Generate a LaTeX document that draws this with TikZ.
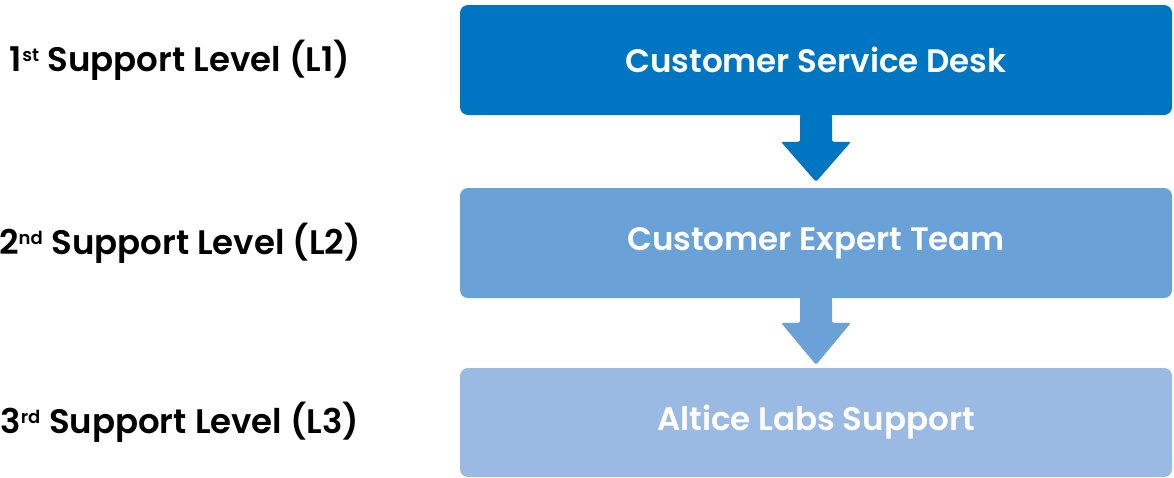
\documentclass[tikz,border=0pt]{standalone}
\usepackage{fontspec}
\setmainfont{Poppins}[BoldFont={Poppins SemiBold}]
\usetikzlibrary{calc}
\definecolor{lvlone}{HTML}{0075C1}
\definecolor{lvltwo}{HTML}{6AA1D6}
\definecolor{lvlthree}{HTML}{9ABAE3}
\tikzset{
  levelbox/.style={rounded corners=8pt, minimum width=712pt, minimum height=110pt,
    inner sep=0pt, text=white, font=\fontsize{32.5}{38}\selectfont\bfseries},
  levellabel/.style={inner sep=0pt, text=black, font=\fontsize{34}{40}\selectfont\bfseries},
  blockarrow/.style={rounded corners=1.5pt}
}
\newcommand{\sufx}[1]{\raisebox{1pt}{\textsuperscript{\fontsize{18}{20}\selectfont #1}}}
\begin{document}
\begin{tikzpicture}[x=1pt,y=-1pt]
\useasboundingbox (0,0) rectangle (1174,477);
\node[levelbox, fill=lvlone] (b1) at (816,60) {Customer Service Desk};
\node[levelbox, fill=lvltwo] (b2) at (816,243) {Customer Expert Team};
\node[levelbox, fill=lvlthree, minimum height=109pt] (b3) at (816,422.5) {Altice Labs Support};
\node[levellabel] (l1) at (180,60) {1\sufx{st} Support Level (L1)};
\node[levellabel] (l2) at (180,243) {2\sufx{nd} Support Level (L2)};
\node[levellabel] (l3) at (180,422) {3\sufx{rd} Support Level (L3)};
% arrow 1
\coordinate (t1) at ($(b2.north)+(0,-6)$);
\fill[lvlone, blockarrow] ($(b1.south)+(-16,-1)$) -- ($(b1.south)+(16,-1)$)
  -- ($(t1)+(16,-40)$) -- ($(t1)+(35,-40)$) -- (t1) -- ($(t1)+(-35,-40)$)
  -- ($(t1)+(-16,-40)$) -- cycle;
% arrow 2
\coordinate (t2) at ($(b3.north)+(0,-3)$);
\fill[lvltwo, blockarrow] ($(b2.south)+(-16,-1)$) -- ($(b2.south)+(16,-1)$)
  -- ($(t2)+(16,-42)$) -- ($(t2)+(35,-42)$) -- (t2) -- ($(t2)+(-35,-42)$)
  -- ($(t2)+(-16,-42)$) -- cycle;
\end{tikzpicture}
\end{document}
